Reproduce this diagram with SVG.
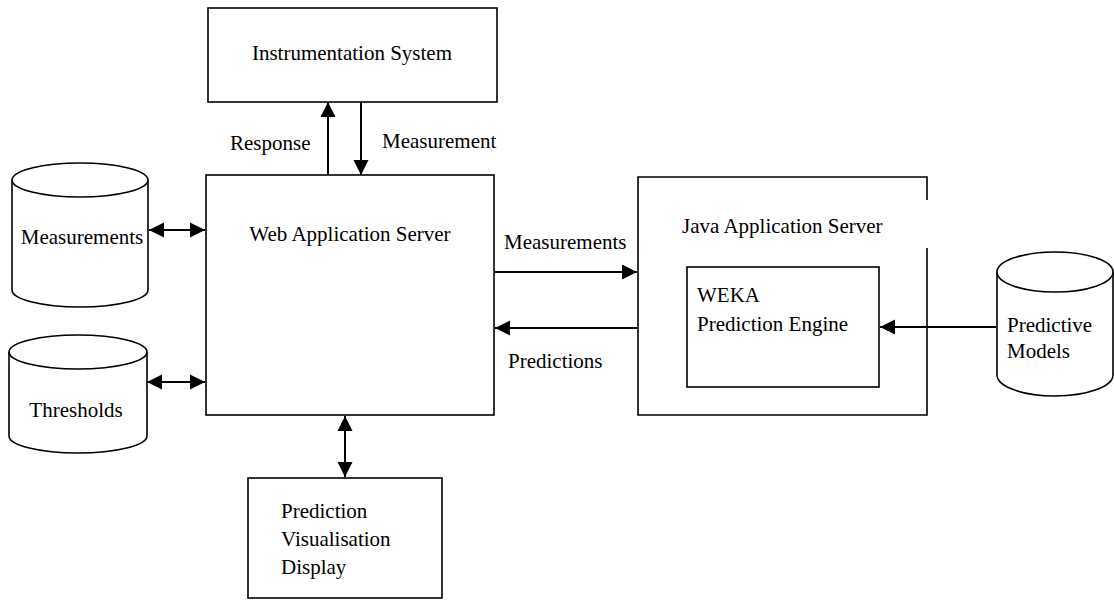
<svg xmlns="http://www.w3.org/2000/svg" width="1114" height="601" viewBox="0 0 1114 601">
<style>
.box{fill:#fff;stroke:#000;stroke-width:1.6}
.cyl{fill:#fff;stroke:#000;stroke-width:1.6}
.ln{fill:none;stroke:#000;stroke-width:2}
text{font-family:"Liberation Serif","Times New Roman",serif;font-size:21px;fill:#000}
</style>
<defs>
<marker id="ah" markerUnits="userSpaceOnUse" markerWidth="16" markerHeight="16" viewBox="0 0 16 16" refX="15" refY="8" orient="auto-start-reverse">
<path d="M0,0.5 L15,8 L0,15.5 Z" fill="#000"/>
</marker>
</defs>
<rect width="1114" height="601" fill="#fff"/>
<g id="instrumentation">
<rect class="box" x="208" y="8" width="289" height="94"/>
<text x="352" y="60" text-anchor="middle">Instrumentation System</text>
</g>
<g id="webserver">
<rect class="box" x="206" y="175" width="288" height="240"/>
<text x="350" y="241" text-anchor="middle">Web Application Server</text>
</g>
<g id="db-measurements">
<path class="cyl" d="M12,180 L12,290 A68,17 0 0 0 148,290 L148,180"/>
<ellipse class="cyl" cx="80" cy="180" rx="68" ry="17"/>
<text x="82" y="244" text-anchor="middle">Measurements</text>
</g>
<g id="db-thresholds">
<path class="cyl" d="M9,352 L9,436 A69,17 0 0 0 147,436 L147,352"/>
<ellipse class="cyl" cx="78" cy="352" rx="69" ry="17"/>
<text x="76" y="417" text-anchor="middle">Thresholds</text>
</g>
<g id="javaserver">
<path class="box" d="M927,200 L927,177 L638,177 L638,415 L927,415 L927,248"/>
<text x="682" y="233">Java Application Server</text>
</g>
<g id="weka">
<rect class="box" x="687" y="267" width="192" height="120"/>
<text x="697" y="302">WEKA</text>
<text x="697" y="331">Prediction Engine</text>
</g>
<g id="db-predictive">
<path class="cyl" d="M997,272 L997,375 A58,21 0 0 0 1113,375 L1113,272"/>
<ellipse class="cyl" cx="1055" cy="272" rx="58" ry="20"/>
<text x="1007" y="332">Predictive</text>
<text x="1007" y="358">Models</text>
</g>
<g id="display">
<rect class="box" x="248" y="478" width="194" height="120"/>
<text x="281" y="518">Prediction</text>
<text x="281" y="546">Visualisation</text>
<text x="281" y="574">Display</text>
</g>
<g id="connectors">
<line class="ln" x1="328" y1="175" x2="328" y2="102" marker-end="url(#ah)"/>
<line class="ln" x1="361" y1="102" x2="361" y2="175" marker-end="url(#ah)"/>
<line class="ln" x1="149" y1="230" x2="205" y2="230" marker-start="url(#ah)" marker-end="url(#ah)"/>
<line class="ln" x1="147" y1="382" x2="205" y2="382" marker-start="url(#ah)" marker-end="url(#ah)"/>
<line class="ln" x1="494" y1="272" x2="637" y2="272" marker-end="url(#ah)"/>
<line class="ln" x1="637" y1="328" x2="495" y2="328" marker-end="url(#ah)"/>
<line class="ln" x1="996" y1="327" x2="880" y2="327" marker-end="url(#ah)"/>
<line class="ln" x1="345" y1="416" x2="345" y2="477" marker-start="url(#ah)" marker-end="url(#ah)"/>
<text x="230" y="150">Response</text>
<text x="382" y="148">Measurement</text>
<text x="504" y="249">Measurements</text>
<text x="508" y="368">Predictions</text>
</g>
</svg>
